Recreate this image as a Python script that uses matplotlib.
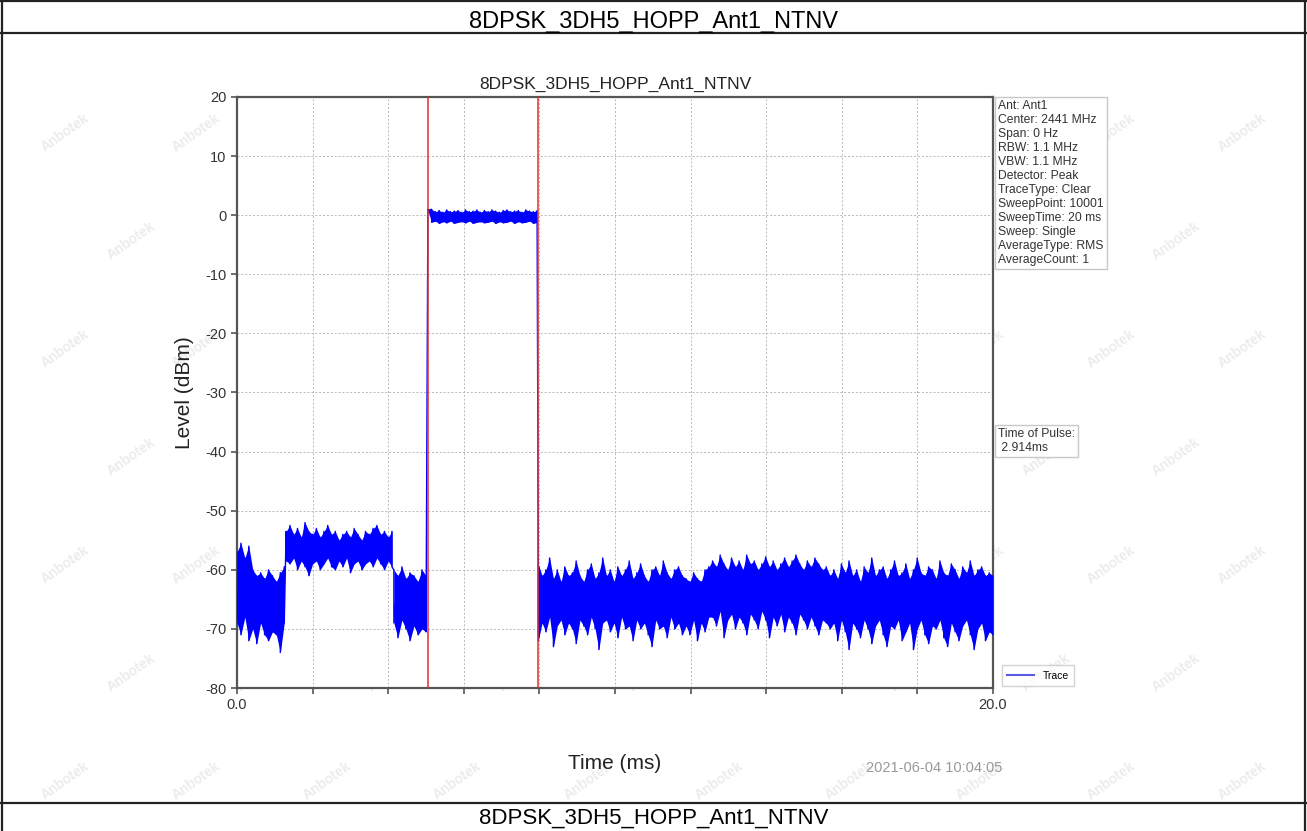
import numpy as np
import matplotlib
matplotlib.use("Agg")
import matplotlib.pyplot as plt
from matplotlib.lines import Line2D

plt.rcParams['font.family'] = ['Liberation Sans', 'DejaVu Sans']
plt.rcParams['axes.unicode_minus'] = False

# chart text
header = "8DPSK_3DH5_HOPP_Ant1_NTNV"
info_lines = ["Ant: Ant1", "Center: 2441 MHz", "Span: 0 Hz", "RBW: 1.1 MHz", "VBW: 1.1 MHz",
              "Detector: Peak", "TraceType: Clear", "SweepPoint: 10001", "SweepTime: 20 ms",
              "Sweep: Single", "AverageType: RMS", "AverageCount: 1"]
pulse_text = "Time of Pulse:\n 2.914ms"
stamp = "2021-06-04 10:04:05"

# axes ticks
x_ticks = [0, 2, 4, 6, 8, 10, 12, 14, 16, 18, 20]
x_tick_labels = ["0.0", "", "", "", "", "", "", "", "", "", "20.0"]
y_ticks = [-80, -70, -60, -50, -40, -30, -20, -10, 0, 10, 20]

# pulse markers (ms)
marker_lines = [5.05, 7.964]

# trace envelope, per segment: span (ms), upper and lower level (dBm)
seg1_span = (0.0, 1.25)
seg1_hi = [-57, -55.5, -58, -56, -60, -61, -60.5, -61.5, -60, -61, -62, -60.5, -59.5]
seg1_lo = [-69, -71, -68, -72, -70, -72.5, -69, -71, -72, -70.5, -71, -74, -69]

seg2_span = (1.3, 4.1)
seg2_hi = [-53.5, -52.5, -54, -53, -54.5, -52, -53.5, -54, -53, -54.5, -53.5, -52.5, -54, -53.5, -55,
           -54, -53.5, -54.5, -53, -54, -55, -53.5, -54, -53, -52.5, -54, -53.5, -54.5, -53.5]
seg2_lo = [-58.5, -59, -58, -60, -58.5, -59.5, -61, -59, -58.5, -60, -59, -58, -59.5, -60, -58.5,
           -59.5, -58, -60.5, -59, -58.5, -60, -59, -58.5, -59.5, -58, -59, -60, -58.5, -59.5]

seg3_span = (4.15, 5.0)
seg3_hi = [-60, -61, -59.5, -61.5, -60.5, -61, -62, -60, -61]
seg3_lo = [-69, -71.5, -68.5, -70, -72, -69.5, -71, -70, -70.5]

pulse_span = (5.05, 7.94)
pulse_hi = [1.0, 1.0, 0.6, 0.8, 0.5, 0.9, 0.6, 0.7, 0.8, 0.5, 0.9, 0.6, 0.7, 0.9, 0.5,
            0.8, 0.6, 0.9, 0.7, 0.5, 0.8, 0.9, 0.6, 0.7, 0.8, 0.5, 0.9, 0.7, 0.6, 0.8]
pulse_lo = [0.8, -1.2, -1.0, -1.4, -1.1, -1.3, -1.0, -1.4, -1.2, -1.1, -1.3, -1.0, -1.4, -1.2, -1.1,
            -1.3, -1.2, -1.0, -1.4, -1.1, -1.3, -1.2, -1.0, -1.4, -1.1, -1.3, -1.2, -1.0, -1.4, -1.2]

seg4_span = (7.97, 20.0)
seg4_hi = [-59, -61, -60, -58, -61.5, -60, -62, -59.5, -61, -60.5, -58.5, -61, -62, -60, -59,
           -61.5, -60.5, -58, -61, -60, -62, -59.5, -61, -60, -58.5, -61.5, -60.5, -59, -61, -62,
           -60, -59.5, -61, -58.5, -60.5, -61.5, -60, -59.5, -61,
           -61.5, -62, -60.5, -61.5, -62, -60, -59.5,
           -58.5, -59.5, -57.5, -59, -60, -58, -59.5, -58.5, -60, -57.5, -59, -58.5, -60, -59, -57.8,
           -59.5, -58.5, -60, -59, -58, -59.5, -58.5, -57.5, -59, -60, -58.5, -59.5, -58, -59, -60, -59.5,
           -61, -60, -61.5, -59, -60.5, -58.5, -61, -60, -62, -59.5, -60.5, -58, -61, -60, -59.5,
           -61.5, -60, -58.5, -61, -60.5, -59, -61.5, -60, -58, -60.5, -61, -59.5, -60, -61.5, -58.5,
           -60.5, -61, -59, -60, -61.5, -59.5, -60.5, -58.5, -61, -60, -59.5, -61, -60.5, -61]
seg4_lo = [-72, -69, -70.5, -68, -73, -69.5, -68.5, -71, -69, -70, -72.5, -68.5, -69.5, -71, -68,
           -70, -73.5, -69, -68.5, -70.5, -69, -71.5, -68, -70, -69.5, -72, -68.5, -70, -69, -71,
           -73, -68.5, -70, -69.5, -71.5, -68, -70, -69, -71,
           -69.5, -71, -68.5, -72, -69, -70.5, -68,
           -68, -69.5, -67, -71.5, -68.5, -67.5, -70, -68, -69, -71, -67.5, -68.5, -70, -67, -68.5,
           -71.5, -68, -69.5, -67.5, -70.5, -68, -69, -71, -67.5, -68.5, -70, -68, -69.5, -71, -68.5, -69,
           -70, -69, -72, -68.5, -70.5, -73.5, -69, -70, -71.5, -68.5, -70, -72.5, -69.5, -68.5, -71,
           -73, -69.5, -70, -68.5, -72, -70.5, -69, -73.5, -70, -68.5, -71, -72.5, -69.5, -70, -68.5,
           -71.5, -73, -69, -70.5, -72, -69.5, -68.5, -71, -73.5, -70, -69, -72, -70.5, -71]

segments = [(seg1_span, seg1_hi, seg1_lo), (seg2_span, seg2_hi, seg2_lo), (seg3_span, seg3_hi, seg3_lo),
            (pulse_span, pulse_hi, pulse_lo), (seg4_span, seg4_hi, seg4_lo)]

fig = plt.figure(figsize=(13.07, 8.31), dpi=100)
H, W = 831.0, 1307.0

# watermark in the margins
rows = np.arange(0.06, 0.95, 0.13)
for i, gy in enumerate(rows):
    for gx in np.arange(0.05 + 0.05 * (i % 2), 0.96, 0.1):
        fig.text(gx, gy, "Anbotek", rotation=35, fontsize=10, color="#ececec",
                 fontweight="bold", zorder=-5, ha="center", va="center")

# report frame
for y in [1, 33, 803]:
    fig.add_artist(Line2D([0.001, 0.999], [1 - y / H] * 2, color="#222222", lw=1.6))
for x in [1.5, 1305]:
    fig.add_artist(Line2D([x / W] * 2, [0, 1], color="#222222", lw=1.6))
fig.text(0.5, 1 - 22 / H, header, ha="center", va="center", fontsize=17)
fig.text(0.5, 1 - 818 / H, header, ha="center", va="center", fontsize=16)

ax = fig.add_axes([237 / W, 1 - 688 / H, (993 - 237) / W, (688 - 97) / H])

# trace: filled band between upper and lower envelope, with a zig-zag line for the spikes
tt, yy = [], []
for (t0, t1), hi, lo in segments:
    n = min(len(hi), len(lo))
    ts = np.linspace(t0, t1, n)
    ax.fill_between(ts, hi[:n], lo[:n], color="#0000ff", lw=0, zorder=3)
    for k in range(n):
        tt += [ts[k], ts[k]]
        yy += [hi[k], lo[k]]
ax.plot(tt, yy, color="#0000ff", lw=1.0, label="Trace", zorder=3)

for m in marker_lines:
    ax.axvline(m, color="#e03030", lw=1.1, zorder=4)

ax.set_xlim(0, 20)
ax.set_ylim(-80, 20)
ax.set_xticks(x_ticks)
ax.set_xticklabels(x_tick_labels)
ax.set_yticks(y_ticks)
ax.grid(True, color="#b8b8b8", linestyle=(0, (2, 2)), lw=0.7)
for s in ax.spines.values():
    s.set_color("#555555")
    s.set_linewidth(1.6)
ax.tick_params(colors="#555555", labelcolor="#333333", labelsize=10.5, length=4, width=1.2)
ax.set_title(header, fontsize=12.5, color="#222222", pad=6)
ax.set_xlabel("Time (ms)", fontsize=15, color="#222222", labelpad=30)
ax.set_ylabel("Level (dBm)", fontsize=15, color="#222222", labelpad=8)

box = dict(boxstyle="square,pad=0.25", facecolor="white", edgecolor="#c8c8c8", lw=1)
ax.text(1.007, 0.995, "\n".join(info_lines), transform=ax.transAxes, ha="left", va="top",
        fontsize=8.7, color="#333333", linespacing=1.22, bbox=box, clip_on=False)
ax.text(1.007, 0.44, pulse_text, transform=ax.transAxes, ha="left", va="top",
        fontsize=8.7, color="#333333", linespacing=1.22, bbox=box, clip_on=False)
ax.text(1.013, -0.135, stamp, transform=ax.transAxes, ha="right", va="center",
        fontsize=10.5, color="#9a9a9a")

leg = ax.legend(loc="lower left", bbox_to_anchor=(1.005, -0.005), fontsize=7.5, frameon=True,
                fancybox=False, edgecolor="#c8c8c8", handlelength=2.6, borderpad=0.5)
leg.get_lines()[0].set_color("#5a5ae0")
leg.get_lines()[0].set_linewidth(1.5)

fig.savefig("out.png", dpi=100)
